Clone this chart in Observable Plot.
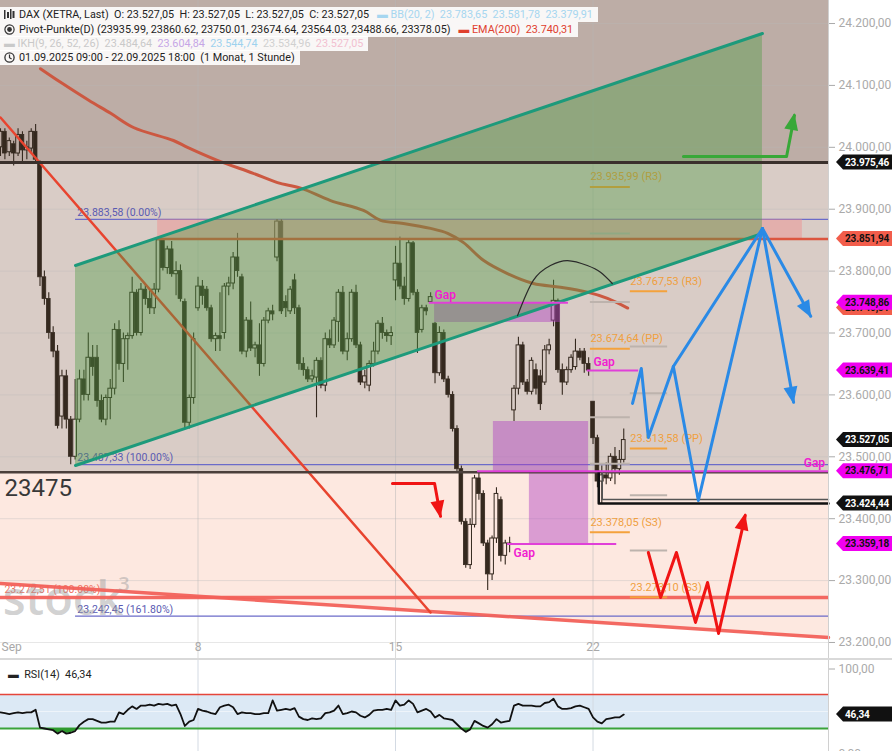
<!DOCTYPE html>
<html><head><meta charset="utf-8">
<script src="https://cdn.jsdelivr.net/npm/d3@7"></script>
<script src="https://cdn.jsdelivr.net/npm/@observablehq/plot@0.6"></script>
<style>
body{margin:0;background:#fff;font-family:Roboto,"Noto Sans",sans-serif;}
#wrap{position:relative;width:892px;height:751px;overflow:hidden;background:#fff;}
#main{position:absolute;left:0;top:0;}
#rsi{position:absolute;left:0;top:660px;}
.sep{position:absolute;left:0;top:658px;width:892px;height:3px;background:#d9d9d9;}
.leg{position:absolute;left:0;height:15px;line-height:15px;padding:0 5px 0 4px;background:rgba(255,255,255,0.9);font-size:10.8px;color:#222;white-space:nowrap;}
.leg svg{vertical-align:-2px;margin-right:4px;}
</style></head>
<body>
<div id="wrap">
  <div id="main"></div>
  <div class="sep"></div>
  <div id="rsi"></div>
  <div class="leg" style="top:7px"><svg width="11" height="11" viewBox="0 0 11 11"><rect x="0" y="1" width="1.5" height="9" fill="#333"/><rect x="3" y="3" width="2" height="6" fill="#333"/><rect x="6" y="0" width="1.5" height="10" fill="#333"/><rect x="8.5" y="2" width="2" height="7" fill="#333"/></svg>DAX (XETRA, Last)&nbsp; O: 23.527,05&nbsp; H: 23.527,05&nbsp; L: 23.527,05&nbsp; C: 23.527,05&nbsp;&nbsp; <span style="color:#a6d6f0">▬ BB(20, 2)&nbsp; 23.783,65&nbsp; 23.581,78&nbsp; 23.379,91</span></div>
  <div class="leg" style="top:22px"><svg width="11" height="11" viewBox="0 0 11 11"><circle cx="5.5" cy="5.5" r="4.6" fill="none" stroke="#333" stroke-width="1.2"/><circle cx="5.5" cy="5.5" r="2.4" fill="#333"/></svg>Pivot-Punkte(D) (23935.99, 23860.62, 23750.01, 23674.64, 23564.03, 23488.66, 23378.05)&nbsp;&nbsp; <span style="color:#e0402e">▬ EMA(200)&nbsp; 23.740,31</span></div>
  <div class="leg" style="top:36px;color:#c9c9c9">▬ IKH(9, 26, 52, 26)&nbsp; 23.484,64&nbsp; <span style="color:#c6a6e6">23.604,84</span>&nbsp; <span style="color:#9ed2ee">23.544,74</span>&nbsp; <span style="color:#d0d0d0">23.534,96</span>&nbsp; <span style="color:#f2c0d0">23.527,05</span></div>
  <div class="leg" style="top:50px"><svg width="11" height="11" viewBox="0 0 11 11"><circle cx="5.5" cy="5.5" r="4.6" fill="none" stroke="#333" stroke-width="1.3"/><path d="M5.5 2.6V5.7L7.6 7" fill="none" stroke="#333" stroke-width="1.2"/></svg>01.09.2025 09:00 - 22.09.2025 18:00&nbsp; (1 Monat, 1 Stunde)</div>
  <div class="leg" style="top:667px;background:none;padding-left:8px">▬&nbsp; RSI(14)&nbsp; 46,34</div>
</div>
<script>
// ---------------- data ----------------
const dayLabels = ["Sep", "8", "15", "22"];
const dayStart = [0, 45, 90, 135];
const priceTicks = [23200, 23300, 23400, 23500, 23600, 23700, 23800, 23900, 24000, 24100, 24200];

const open = [24000,24025,23992,24005,23990,24020,23995,23998,24025,23975,23790,23755,23700,23670,23565,23630,23560,23500,23560,23625,23600,23660,23660,23590,23560,23595,23610,23705,23650,23690,23695,23765,23700,23770,23755,23740,23770,23850,23805,23835,23795,23800,23750,23555,23595,23740,23775,23770,23740,23690,23695,23700,23775,23780,23822,23790,23670,23720,23675,23680,23650,23720,23735,23822,23880,23750,23735,23785,23740,23650,23640,23625,23628,23655,23615,23690,23680,23718,23765,23670,23690,23765,23680,23620,23615,23650,23670,23715,23700,23695,23785,23812,23775,23755,23845,23765,23705,23740,23750,23715,23635,23700,23625,23600,23545,23480,23395,23325,23390,23465,23440,23360,23310,23368,23430,23340,23360,23575,23610,23680,23620,23605,23640,23630,23620,23672,23720,23752,23640,23620,23640,23645,23670,23670,23650,23589,23530,23460,23470,23465,23500,23480,23495];
const high = [24030,24030,24015,24010,24030,24025,24010,24030,24037,23978,23800,23765,23710,23680,23640,23640,23565,23625,23640,23640,23700,23680,23680,23600,23600,23625,23715,23720,23700,23700,23790,23770,23780,23780,23770,23780,23855,23852,23840,23848,23815,23810,23755,23600,23700,23790,23785,23775,23745,23700,23765,23780,23790,23830,23861,23795,23725,23750,23685,23715,23725,23740,23745,23883.58,23883,23760,23775,23795,23745,23660,23645,23640,23660,23660,23700,23705,23725,23770,23775,23700,23770,23777,23685,23640,23655,23685,23720,23725,23705,23710,23840,23855,23790,23850,23848,23770,23745,23745,23765,23717,23710,23705,23630,23605,23550,23485,23400,23400,23470,23475,23445,23365,23372,23450,23435,23365,23370,23615,23693,23685,23625,23660,23650,23640,23680,23690,23785.25,23755,23650,23645,23665,23690,23675,23675,23660,23589.25,23535,23485,23490,23505,23515,23510,23545];
const low = [23985,23980,23985,23970,23985,23975,23980,23990,23975,23775,23745,23690,23660,23545,23545,23545,23487.33,23495,23555,23590,23590,23630,23580,23555,23550,23560,23600,23640,23620,23640,23690,23695,23695,23745,23730,23730,23765,23800,23795,23790,23760,23750,23545,23545,23585,23735,23745,23735,23685,23670,23670,23690,23760,23770,23790,23665,23660,23670,23660,23630,23645,23715,23720,23815,23730,23725,23730,23730,23640,23630,23620,23620,23563,23610,23605,23675,23675,23685,23665,23655,23685,23675,23615,23610,23605,23645,23665,23690,23685,23680,23752,23770,23745,23750,23760,23667,23700,23728,23749,23618,23630,23620,23595,23540,23475,23390,23320,23318,23385,23430,23355,23284,23300,23360,23330,23325,23345,23557,23600,23615,23600,23600,23600,23575,23615,23665,23710,23635,23599.27,23615,23635,23640,23655,23635,23630,23520,23450,23424.44,23455,23460,23455,23470,23490];
const close = [24025,23990,24010,23990,24020,23995,24000,24025,23980,23790,23755,23700,23670,23550,23630,23560,23500,23560,23625,23600,23660,23645,23590,23560,23595,23610,23705,23650,23690,23695,23765,23700,23770,23755,23740,23770,23850,23805,23835,23795,23800,23755,23555,23595,23690,23775,23760,23740,23690,23695,23690,23775,23780,23822,23800,23670,23720,23675,23680,23650,23720,23735,23730,23880,23735,23740,23770,23740,23650,23640,23625,23630,23655,23615,23690,23680,23720,23765,23670,23690,23765,23680,23620,23630,23650,23670,23715,23700,23695,23700,23812,23775,23755,23845,23765,23700,23740,23735,23758,23635,23700,23625,23600,23545,23480,23395,23325,23390,23465,23440,23360,23310,23368,23440,23340,23360,23359.18,23610,23680,23620,23605,23655,23610,23585,23672,23680,23752,23640,23620,23640,23660,23670,23660,23650,23639.41,23530,23460,23470,23465,23500,23480,23495,23527.05];

const rsi14 = [49,48,47,48,49,48,49,49,52,31,30,29,28,24,27,24,25,27,34,38,41,41,39,37,37,38,38,49,47,52,56,53,57,57,58,57,59,58,59,57,58,47,33,38,40,53,51,50,48,47,55,57,58,55,47,49,48,48,47,47,48,48,63,51,52,53,52,54,44,41,40,42,41,42,48,49,51,57,47,48,50,49,45,43,46,51,52,52,53,52,63,57,58,63,59,49,51,53,50,43,46,42,41,40,35,30,26,29,39,36,33,31,35,41,37,38,39,57,59,57,57,57,56,56,60,61,65,56,53,53,54,56,57,55,53,43,38,36,41,42,43,43,46.34];

const emaIdx = [9.1,13.7,20.1,25.1,30.3,39.4,42.6,49.4,57.6,63.1,68.4,75.2,82.7,86.6,91.8,98.0,101.9,105.5,110.1,115.5,121.4,127.6,133.7,138.3,142.9];
const emaVal = [24127,24105,24076,24055,24032,24011,24000,23979,23958,23943,23934,23914,23898,23882,23877,23869,23861,23846,23817,23796,23780,23774,23766,23756,23740.31];

const resistance = 23975.46;
const support = 23475;
const fibStart = 17.1;
const fibLevels = [23883.58, 23487.33, 23242.45];
const fibLabels = ["23.883,58 (0.00%)", "23.487,33 (100.00%)", "23.242,45 (161.80%)"];
const redFib = 23272.51;
const redFibLabel = "23.272,51 (100.00%)";
const lowerTrend = [[0, 23295.4], [188.65, 23208.1]];
const downTrend = [[0, 24048.2], [97.97, 23248.5]];
const channelX = [17.09, 173.6];
const channelLow = [23486.0, 23860.8];
const channelHigh = [23809.1, 24183.9];
const boxX = [35.8, 182.7];
const boxY = [23851.94, 23883.58];
const redLevel = 23851.94;

const pivotNames = ["R3", "R2", "R1", "PP", "S1", "S2", "S3"];
const pivotsSep22 = [23935.99, 23860.62, 23750.01, 23674.64, 23564.03, 23488.66, 23378.05];
const pivotsSep23 = [23767.53, 23678.39, 23602.72, 23513.58, 23437.91, 23348.77, 23273.10];
const pivotSpanSep22 = [134.4, 143.5];
const pivotSpanSep23 = [143.5, 152.0];

const gapRects = [[98.9, 127.6, 23717, 23748.86], [112.3, 134.0, 23475, 23557], [120.5, 134.0, 23359.18, 23475]];
const gapLines = [[97.7, 129.4, 23748.86], [115.5, 140.4, 23359.18], [133.7, 145.4, 23639.41], [108.7, 188.65, 23476.71]];
const gapLabelsAbove = [[98.9, 23748.86], [135.1, 23639.41], [183.0, 23476.71]];
const gapLabelsBelow = [[116.9, 23359.18]];

const lowBracketOuter = [[136.3, 23476], [136.3, 23424.44], [188.65, 23424.44]];
const lowBracketInner = [[137.1, 23476], [137.1, 23431], [188.65, 23431]];

const arc = [[117.8, 23728], [121.4, 23785], [125.3, 23809], [129.2, 23817], [133.7, 23809], [136.7, 23798], [139.4, 23780]];
const greenArrow = [[155.6, 23985.2], [179.1, 23985.2], [180.9, 24051.4]];
const blueZig = [[144.0, 23586.2], [146.0, 23642.7], [147.6, 23531.3], [153.3, 23645.9], [173.6, 23868.9]];
const blueV = [[153.3, 23645.9], [159.0, 23429.5], [173.6, 23868.9]];
const blueDown = [[173.6, 23868.9], [180.7, 23588]];
const blueRight = [[173.6, 23868.9], [184.6, 23727]];
const redArrow = [[89.3, 23456.9], [98.9, 23456.9], [100.25, 23404]];
const redW = [[147.6, 23345.4], [150.4, 23272.7], [154.0, 23345.4], [158.35, 23232.4], [161.1, 23297.0], [163.6, 23214.6], [169.7, 23405.2]];

const tagValues = [23975.46, 23851.94, 23740.31, 23748.86, 23639.41, 23527.05, 23476.71, 23424.44, 23359.18];
const tagKinds = ["black", "red", "red", "magenta", "magenta", "black", "magenta", "black", "magenta"];
const rsiLast = 46.34;

// ---------------- helpers ----------------
function de(v) {
  const s = Math.abs(v).toFixed(2);
  const [a, b] = s.split(".");
  return (v < 0 ? "-" : "") + a.replace(/\B(?=(\d{3})+(?!\d))/g, ".") + "," + b;
}
const pts = a => a.map(([i, p]) => ({i, p}));
const xMax = 188.65;
const yDom = [23170.9, 24237.2];
const dark = "#35291f";
const candles = d3.range(open.length).map(i => ({i, o: open[i], h: high[i], l: low[i], c: close[i]}));
const ema = emaIdx.map((i, k) => ({i, p: emaVal[k]}));
const channel = channelX.map((i, k) => ({i, lo: channelLow[k], hi: channelHigh[k]}));
const pivotRows = [];
[[pivotsSep22, pivotSpanSep22], [pivotsSep23, pivotSpanSep23]].forEach(([vals, span]) => {
  vals.forEach((p, k) => pivotRows.push({x1: span[0], x2: span[1], p, name: pivotNames[k], main: ["R3", "PP", "S3"].includes(pivotNames[k])}));
});
const font = "Roboto, 'Noto Sans', sans-serif";

const main = Plot.plot({
  width: 892, height: 660,
  marginLeft: 0, marginRight: 64, marginTop: 0, marginBottom: 0,
  x: {domain: [0, xMax], axis: null},
  y: {domain: yDom, axis: "right", ticks: priceTicks, tickFormat: de, tickSize: 6, tickPadding: 4, label: null},
  style: {background: "white", color: "#aaaaaa", fontSize: "12px", fontFamily: font, overflow: "visible"},
  marks: [
    // zones
    Plot.rect([0], {x1: 0, x2: xMax, y1: resistance, y2: yDom[1], fill: "#bdada6"}),
    Plot.rect([0], {x1: 0, x2: xMax, y1: support, y2: resistance, fill: "#d9ccc6"}),
    Plot.areaY(pts(lowerTrend), {x: "i", y1: "p", y2: support, fill: "#fde8e0"}),
    // grid
    Plot.ruleY(priceTicks, {stroke: "#b8b8b8", strokeOpacity: 0.35}),
    Plot.ruleX(dayStart.slice(1), {stroke: "#b8b8b8", strokeOpacity: 0.5}),
    // fib levels
    Plot.ruleY(fibLevels, {x1: fibStart, x2: xMax, stroke: "#6b6bc9", strokeWidth: 1.2}),
    Plot.text(fibLevels, {x: fibStart + 0.4, y: d => d, text: (d, k) => fibLabels[k], textAnchor: "start", dy: -7, fill: "#5a5ab2", fontSize: 10.5}),
    Plot.text([redFib], {x: 0.9, y: d => d, text: () => redFibLabel, textAnchor: "start", dy: -8, fill: "#f0705f", fontSize: 10.5}),
    // watermark
    Plot.text(["stock"], {x: 0.5, frameAnchor: "bottom", dy: -46, lineAnchor: "bottom", textAnchor: "start", fontSize: 47, fontWeight: 600, fill: "#9a9a9a", fillOpacity: 0.45, fontFamily: "'Open Sans', sans-serif"}),
    Plot.text(["3"], {x: 26.8, frameAnchor: "bottom", dy: -70, lineAnchor: "bottom", textAnchor: "start", fontSize: 20, fontWeight: 600, fill: "#9a9a9a", fillOpacity: 0.45, fontFamily: "'Open Sans', sans-serif"}),
    // red support lines
    Plot.ruleY([redFib], {stroke: "#f2615a", strokeWidth: 3.5, strokeOpacity: 0.95}),
    Plot.line(pts(lowerTrend), {x: "i", y: "p", stroke: "#f2615a", strokeWidth: 3.5, strokeOpacity: 0.95}),
    // candles
    Plot.ruleX(candles, {x: "i", y1: "l", y2: d => Math.min(d.o, d.c), stroke: dark, strokeWidth: 1.1}),
    Plot.ruleX(candles, {x: "i", y1: d => Math.max(d.o, d.c), y2: "h", stroke: dark, strokeWidth: 1.1}),
    Plot.rect(candles, {filter: d => d.c < d.o, x1: d => d.i - 0.42, x2: d => d.i + 0.42, y1: "o", y2: d => (d.o - d.c < 2 ? d.o - 2 : d.c), fill: dark, stroke: dark, strokeWidth: 0.8}),
    Plot.rect(candles, {filter: d => d.c >= d.o, x1: d => d.i - 0.42, x2: d => d.i + 0.42, y1: "o", y2: d => (d.c - d.o < 2 ? d.o + 2 : d.c), fill: "none", stroke: dark, strokeWidth: 1}),
    // resistance box & red level
    Plot.rect([0], {x1: boxX[0], x2: boxX[1], y1: boxY[0], y2: boxY[1], fill: "#f08c8c", fillOpacity: 0.45}),
    Plot.ruleY([redLevel], {x1: boxX[0], x2: xMax, stroke: "#dc553f", strokeWidth: 2.5}),
    // EMA 200
    Plot.line(ema, {x: "i", y: "p", stroke: "#cc5841", strokeWidth: 3, curve: "catmull-rom"}),
    // falling trendline
    Plot.line(pts(downTrend), {x: "i", y: "p", stroke: "#e8442f", strokeWidth: 2.5}),
    // pivots
    Plot.ruleY(pivotRows.filter(d => !d.main), {x1: "x1", x2: "x2", y: "p", stroke: "#bdb3ad", strokeWidth: 2}),
    Plot.ruleY(pivotRows.filter(d => d.main), {x1: "x1", x2: "x2", y: "p", stroke: "#f4a23c", strokeWidth: 2}),
    Plot.text(pivotRows.filter(d => d.main), {x: "x1", y: "p", text: d => `${de(d.p)} (${d.name})`, textAnchor: "start", dy: -10, fill: "#f0a040", fontSize: 11}),
    // gaps
    Plot.rect(gapRects, {x1: d => d[0], x2: d => d[1], y1: d => d[2], y2: d => d[3], fill: "#b040c0", fillOpacity: 0.45}),
    // green channel
    Plot.areaY(channel, {x: "i", y1: "lo", y2: "hi", fill: "#4e9a44", fillOpacity: 0.4}),
    Plot.line(channel, {x: "i", y: "hi", stroke: "#1d9a7b", strokeWidth: 3}),
    Plot.line(channel, {x: "i", y: "lo", stroke: "#1d9a7b", strokeWidth: 3}),
    // black levels
    Plot.ruleY([resistance], {stroke: "#3a302c", strokeWidth: 3}),
    Plot.ruleY([support], {stroke: "#4b3f3b", strokeWidth: 2.5}),
    Plot.line(pts(lowBracketInner), {x: "i", y: "p", stroke: "#555", strokeWidth: 1.5}),
    Plot.line(pts(lowBracketOuter), {x: "i", y: "p", stroke: "#111", strokeWidth: 2.5}),
    // gap lines and labels
    Plot.ruleY(gapLines, {x1: d => d[0], x2: d => d[1], y: d => d[2], stroke: "#e040d8", strokeWidth: 2}),
    Plot.text(gapLabelsAbove, {x: d => d[0], y: d => d[1], text: () => "Gap", textAnchor: "start", dy: -8, fill: "#f020d0", fontSize: 12, fontWeight: 600, ariaLabel: "gaplabel"}),
    Plot.text(gapLabelsBelow, {x: d => d[0], y: d => d[1], text: () => "Gap", textAnchor: "start", dy: 9, fill: "#f020d0", fontSize: 12, fontWeight: 600, ariaLabel: "gaplabel"}),
    // arc
    Plot.line(pts(arc), {x: "i", y: "p", curve: "natural", stroke: "#2a2a2a", strokeWidth: 1.2}),
    // scenario arrows
    Plot.line(pts(greenArrow), {x: "i", y: "p", stroke: "#38a838", strokeWidth: 3}),
    Plot.line(pts(blueZig), {x: "i", y: "p", stroke: "#2a8ae6", strokeWidth: 3}),
    Plot.line(pts(blueV), {x: "i", y: "p", stroke: "#2a8ae6", strokeWidth: 3}),
    Plot.line(pts(blueDown), {x: "i", y: "p", stroke: "#2a8ae6", strokeWidth: 3}),
    Plot.line(pts(blueRight), {x: "i", y: "p", stroke: "#2a8ae6", strokeWidth: 3}),
    Plot.line(pts(redArrow), {x: "i", y: "p", stroke: "#f01414", strokeWidth: 3}),
    Plot.line(pts(redW), {x: "i", y: "p", stroke: "#f01414", strokeWidth: 3}),
    // big level label
    Plot.text([support], {x: 0.9, y: d => d, text: d => String(d), textAnchor: "start", dy: 16, fontSize: 24, fill: "#383838"}),
    // x labels
    Plot.text([dayLabels[0]], {x: dayStart[0], frameAnchor: "bottom", dy: -10, text: d => d, textAnchor: "start", dx: 1, fill: "#a8a8a8", fontSize: 12}),
    Plot.text(dayLabels.slice(1), {x: (d, k) => dayStart[k + 1], frameAnchor: "bottom", dy: -10, text: d => d, fill: "#a8a8a8", fontSize: 12}),
    Plot.ruleX([xMax], {stroke: "#d0d0d0"})
  ]
});
document.getElementById("main").appendChild(main);

const rsiRows = rsi14.map((v, i) => ({i, v}));
const rsiPlot = Plot.plot({
  width: 892, height: 91,
  marginLeft: 0, marginRight: 64, marginTop: 0, marginBottom: 0,
  x: {domain: [0, xMax], axis: null},
  y: {domain: [0, 100], range: [93.5, 8.5], axis: "right", ticks: [0, 100], tickFormat: de, tickSize: 6, tickPadding: 4, label: null},
  style: {background: "white", color: "#aaaaaa", fontSize: "12px", fontFamily: font, overflow: "visible"},
  marks: [
    Plot.rect([0], {x1: 0, x2: xMax, y1: 30, y2: 70, fill: "#dce9f5"}),
    Plot.ruleY([50], {x1: 0, x2: xMax, stroke: "#ffffff", strokeOpacity: 0.5}),
    Plot.ruleX(dayStart.slice(1), {stroke: "#d3dae3"}),
    Plot.ruleY([70], {x1: 0, x2: xMax, stroke: "#e5463a", strokeWidth: 1.5}),
    Plot.ruleY([30], {x1: 0, x2: xMax, stroke: "#3aa33a", strokeWidth: 2}),
    Plot.areaY(rsiRows, {x: "i", y1: 30, y2: d => Math.min(d.v, 30), fill: "#2f9a2f"}),
    Plot.line(rsiRows, {x: "i", y: "v", stroke: "#111", strokeWidth: 1.8}),
    Plot.ruleX([xMax], {stroke: "#d0d0d0"})
  ]
});
document.getElementById("rsi").appendChild(rsiPlot);

// ---------------- overlays drawn through the plot scales ----------------
const tagStyle = {black: ["#111111", "#ffffff"], red: ["#f25d4b", "#111111"], magenta: ["#f000f0", "#111111"]};
function drawTag(svgEl, yScale, value, kind) {
  const svg = d3.select(svgEl);
  const y = yScale.apply(value);
  const [bg, fg] = tagStyle[kind];
  svg.append("path").attr("d", `M836,${y}L843,${y - 7.5}L892,${y - 7.5}L892,${y + 7.5}L843,${y + 7.5}Z`).attr("fill", bg);
  svg.append("text").attr("x", 845).attr("y", y).attr("dy", "0.36em").attr("fill", fg)
    .attr("text-anchor", "start").attr("letter-spacing", "-0.15")
    .attr("font-size", 10).attr("font-weight", 700).attr("font-family", font).text(de(value));
}
const ys = main.scale("y"), xs = main.scale("x");
tagValues.forEach((v, k) => drawTag(main, ys, v, tagKinds[k]));
drawTag(rsiPlot, rsiPlot.scale("y"), rsiLast, "black");

function arrowHead(path, color, L = 15, W = 7) {
  const n = path.length;
  const x1 = xs.apply(path[n - 2][0]), y1 = ys.apply(path[n - 2][1]);
  const x2 = xs.apply(path[n - 1][0]), y2 = ys.apply(path[n - 1][1]);
  const a = Math.atan2(y2 - y1, x2 - x1);
  const bx = x2 - L * Math.cos(a), by = y2 - L * Math.sin(a);
  const px = -Math.sin(a) * W, py = Math.cos(a) * W;
  d3.select(main).append("path").attr("d", `M${x2 + Math.cos(a) * 2},${y2 + Math.sin(a) * 2}L${bx + px},${by + py}L${bx - px},${by - py}Z`).attr("fill", color);
}
arrowHead(greenArrow, "#38a838");
arrowHead(blueDown, "#2a8ae6");
arrowHead(blueRight, "#2a8ae6");
arrowHead(redArrow, "#f01414");
arrowHead(redW, "#f01414");

// white boxes behind the "Gap" labels
d3.select(main).selectAll('g[aria-label="gaplabel"] text').each(function () {
  const b = this.getBBox();
  d3.select(this.parentNode).insert("rect", () => this)
    .attr("x", b.x - 2).attr("y", b.y).attr("width", b.width + 4).attr("height", b.height)
    .attr("fill", "#ffffff").attr("fill-opacity", 0.92).attr("rx", 1.5);
});
</script>
</body></html>
